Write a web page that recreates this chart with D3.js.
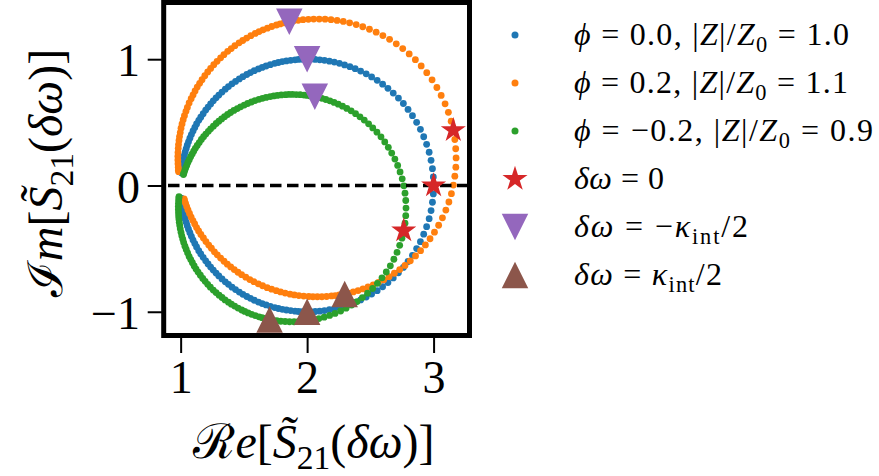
<!DOCTYPE html>
<html><head><meta charset="utf-8">
<script src="https://cdn.jsdelivr.net/npm/d3@7"></script>
<style>
body{margin:0;background:#fff}
svg{display:block}
text{font-family:"Liberation Serif","DejaVu Serif",serif;fill:#000;white-space:pre}
</style>
</head><body>
<svg id="c" width="879" height="476"></svg>
<script>
// ---------------- data ----------------
const seriesColors = ["#1f77b4", "#ff7f0e", "#2ca02c"];
const phiLabels = ["0.0", "0.2", "\u22120.2"];
const zLabels = ["1.0", "1.1", "0.9"];
const xTicks = [1, 2, 3];
const yTicks = [-1, 0, 1];

const bluePts = [
[2.998,.067],[2.991,.133],[2.980,.199],[2.965,.263],[2.945,.326],[2.922,.386],[2.896,.445],[2.866,.500],[2.833,.553],[2.798,.602],[2.761,.649],[2.722,.692],[2.681,.732],[2.639,.769],[2.597,.802],[2.554,.833],[2.510,.860],[2.467,.884],[2.423,.906],[2.380,.925],[2.338,.941],[2.296,.955],[2.255,.967],[2.215,.977],[2.176,.984],[2.137,.991],[2.100,.995],[2.064,.998],[2.029,1.000],[1.995,1.000],
[1.961,.999],[1.932,.998],[1.905,.995],[1.870,.991],[1.836,.986],[1.804,.981],[1.773,.974],[1.744,.967],[1.709,.957],[1.676,.946],[1.645,.935],[1.615,.923],[1.582,.909],[1.552,.894],[1.523,.879],[1.492,.862],[1.464,.844],[1.434,.824],[1.406,.805],[1.378,.783],[1.353,.763],[1.327,.740],[1.302,.716],[1.280,.694],[1.258,.670],[1.237,.646],[1.217,.621],[1.198,.597],[1.178,.569],[1.159,.541],[1.143,.516],[1.126,.487],[1.112,.460],[1.098,.432],[1.085,.403],[1.073,.374],[1.062,.346],[1.052,.319],[1.044,.292],[1.036,.265],[1.029,.238],[1.022,.210],[1.017,.184],[1.013,.158],[1.009,.133],[1.006,.111],[1.005,.100],
[3.000,0.000],
[2.998,-.067],[2.991,-.133],[2.980,-.199],[2.965,-.263],[2.945,-.326],[2.922,-.386],[2.896,-.445],[2.866,-.500],[2.833,-.553],[2.798,-.602],[2.761,-.649],[2.722,-.692],[2.681,-.732],[2.639,-.769],[2.597,-.802],[2.554,-.833],[2.510,-.860],[2.467,-.884],[2.423,-.906],[2.380,-.925],[2.338,-.941],[2.296,-.955],[2.255,-.967],[2.215,-.977],[2.176,-.984],[2.137,-.991],[2.100,-.995],[2.064,-.998],[2.029,-1.000],[1.995,-1.000],
[1.961,-.999],[1.932,-.998],[1.905,-.995],[1.870,-.991],[1.836,-.986],[1.804,-.981],[1.773,-.974],[1.744,-.967],[1.709,-.957],[1.676,-.946],[1.645,-.935],[1.615,-.923],[1.582,-.909],[1.552,-.894],[1.523,-.879],[1.492,-.862],[1.464,-.844],[1.434,-.824],[1.406,-.805],[1.378,-.783],[1.353,-.763],[1.327,-.740],[1.302,-.716],[1.280,-.694],[1.258,-.670],[1.237,-.646],[1.217,-.621],[1.198,-.597],[1.178,-.569],[1.159,-.541],[1.143,-.516],[1.126,-.487],[1.112,-.460],[1.098,-.432],[1.085,-.403],[1.073,-.374],[1.062,-.346],[1.052,-.319],[1.044,-.292],[1.036,-.265],[1.029,-.238],[1.022,-.210],[1.017,-.184],[1.013,-.158],[1.009,-.133],[1.006,-.111],[1.005,-.100]
];

const orangePts = [
[3.139,.509],[3.117,.579],[3.091,.647],[3.060,.713],[3.026,.776],[2.988,.837],[2.946,.893],[2.902,.947],[2.856,.996],[2.807,1.042],[2.756,1.084],[2.705,1.122],[2.652,1.157],[2.599,1.187],[2.546,1.214],[2.493,1.237],[2.440,1.257],[2.388,1.274],[2.336,1.288],[2.286,1.299],[2.237,1.307],[2.189,1.313],[2.142,1.317],[2.096,1.318],[2.052,1.318],[2.010,1.316],[1.968,1.313],[1.929,1.308],[1.891,1.302],[1.854,1.295],
[1.817,1.287],[1.787,1.279],[1.758,1.271],[1.721,1.259],[1.686,1.246],[1.652,1.233],[1.620,1.219],[1.590,1.204],[1.555,1.186],[1.522,1.167],[1.491,1.148],[1.462,1.130],[1.429,1.107],[1.400,1.084],[1.372,1.062],[1.342,1.036],[1.316,1.011],[1.288,.983],[1.262,.956],[1.237,.927],[1.214,.899],[1.191,.869],[1.169,.838],[1.150,.809],[1.131,.779],[1.114,.748],[1.098,.717],[1.083,.687],[1.067,.653],[1.053,.618],[1.042,.587],[1.030,.552],[1.020,.521],[1.011,.487],[1.003,.453],[.997,.419],[.991,.387],[.987,.356],[.983,.324],[.981,.294],[.979,.262],[.978,.232],[.978,.202],[.979,.173],[.981,.145],[.982,.121],[.984,.109],
[3.156,.437],
[3.168,.364],[3.175,.291],[3.178,.218],[3.176,.145],[3.168,.074],[3.157,.003],[3.141,-.065],[3.121,-.131],[3.097,-.195],[3.070,-.256],[3.040,-.315],[3.007,-.370],[2.972,-.422],[2.935,-.471],[2.897,-.516],[2.857,-.558],[2.816,-.597],[2.774,-.633],[2.732,-.666],[2.690,-.695],[2.648,-.722],[2.606,-.747],[2.564,-.768],[2.523,-.787],[2.482,-.804],[2.442,-.819],[2.403,-.832],[2.365,-.843],[2.328,-.853],[2.291,-.861],
[2.254,-.867],[2.223,-.872],[2.193,-.875],[2.154,-.879],[2.117,-.881],[2.081,-.881],[2.046,-.881],[2.013,-.879],[1.973,-.876],[1.935,-.872],[1.899,-.867],[1.865,-.861],[1.826,-.852],[1.790,-.843],[1.756,-.833],[1.719,-.821],[1.684,-.809],[1.648,-.794],[1.614,-.779],[1.579,-.762],[1.547,-.745],[1.515,-.726],[1.482,-.706],[1.453,-.687],[1.424,-.666],[1.396,-.645],[1.369,-.623],[1.343,-.600],[1.316,-.575],[1.290,-.549],[1.267,-.525],[1.243,-.497],[1.222,-.472],[1.200,-.444],[1.180,-.416],[1.160,-.388],[1.142,-.360],[1.126,-.333],[1.111,-.305],[1.097,-.278],[1.083,-.250],[1.070,-.222],[1.058,-.194],[1.048,-.167],[1.039,-.141],[1.031,-.118],[1.027,-.107]
];

const greenPts = [
[2.774,-.299],[2.780,-.239],[2.782,-.179],[2.780,-.119],[2.774,-.061],[2.765,-.003],[2.752,.053],[2.735,.107],[2.716,.159],[2.694,.209],[2.669,.257],[2.642,.302],[2.614,.345],[2.584,.385],[2.552,.422],[2.519,.456],[2.486,.488],[2.452,.518],[2.418,.544],[2.383,.569],[2.348,.591],[2.314,.610],[2.280,.628],[2.246,.644],[2.213,.658],[2.180,.670],[2.148,.681],[2.117,.690],[2.086,.697],[2.057,.704],
[2.026,.709],[2.001,.713],[1.976,.716],[1.945,.719],[1.914,.720],[1.884,.721],[1.856,.721],[1.829,.719],[1.796,.717],[1.765,.713],[1.736,.709],[1.708,.704],[1.676,.697],[1.647,.690],[1.619,.682],[1.588,.672],[1.560,.661],[1.530,.649],[1.503,.637],[1.474,.623],[1.448,.609],[1.421,.594],[1.395,.578],[1.371,.562],[1.347,.545],[1.324,.527],[1.302,.509],[1.281,.491],[1.259,.470],[1.237,.449],[1.219,.429],[1.199,.407],[1.181,.386],[1.164,.364],[1.147,.340],[1.131,.317],[1.116,.294],[1.103,.272],[1.091,.250],[1.079,.228],[1.068,.204],[1.057,.182],[1.048,.159],[1.039,.137],[1.032,.116],[1.025,.097],[1.022,.087],
[2.764,-.358],
[2.750,-.417],[2.732,-.474],[2.711,-.530],[2.686,-.584],[2.658,-.636],[2.626,-.685],[2.592,-.731],[2.556,-.775],[2.518,-.816],[2.478,-.853],[2.437,-.888],[2.395,-.919],[2.352,-.947],[2.308,-.972],[2.265,-.994],[2.221,-1.013],[2.178,-1.029],[2.135,-1.043],[2.093,-1.054],[2.052,-1.063],[2.012,-1.070],[1.972,-1.074],[1.934,-1.077],[1.897,-1.079],[1.861,-1.079],[1.826,-1.077],[1.792,-1.075],[1.760,-1.071],[1.729,-1.066],[1.699,-1.060],
[1.669,-1.053],[1.644,-1.047],[1.620,-1.040],[1.590,-1.030],[1.561,-1.020],[1.533,-1.009],[1.507,-.997],[1.483,-.986],[1.454,-.971],[1.427,-.955],[1.401,-.940],[1.378,-.924],[1.351,-.906],[1.327,-.887],[1.304,-.869],[1.280,-.848],[1.258,-.828],[1.235,-.805],[1.214,-.783],[1.194,-.759],[1.175,-.736],[1.156,-.711],[1.138,-.686],[1.122,-.662],[1.107,-.637],[1.093,-.612],[1.080,-.587],[1.067,-.562],[1.055,-.534],[1.044,-.506],[1.034,-.481],[1.024,-.452],[1.017,-.426],[1.009,-.399],[1.003,-.371],[.997,-.343],[.993,-.316],[.989,-.291],[.986,-.265],[.984,-.241],[.983,-.215],[.982,-.190],[.982,-.165],[.983,-.141],[.984,-.119],[.986,-.099],[.987,-.089]
];

// special detunings
const zeroPts      = [[3.000, 0.000], [3.156, 0.437], [2.764, -0.358]];   // δω = 0
const minusHalfPts = [[2.000, 1.000], [1.859, 1.297], [2.061, 0.703]];    // δω = -κ/2
const plusHalfPts  = [[2.000, -1.000], [2.297, -0.859], [1.703, -1.061]]; // δω = +κ/2
const markerColors = {star: "#d62728", down: "#9467bd", up: "#8c564b"};

// legend labels (segments: text, italic, subscript)
const legendLabels = [
  [["ϕ",1],[" = "+phiLabels[0]+", |"],["Z",1],["|/"],["Z",1],["0",0,1],[" = "+zLabels[0]]],
  [["ϕ",1],[" = "+phiLabels[1]+", |"],["Z",1],["|/"],["Z",1],["0",0,1],[" = "+zLabels[1]]],
  [["ϕ",1],[" = "+phiLabels[2]+", |"],["Z",1],["|/"],["Z",1],["0",0,1],[" = "+zLabels[2]]],
  [["δω",1],[" = 0"]],
  [["δω",1],[" = \u2212"],["κ",1],["int",0,1],["/2"]],
  [["δω",1],[" = "],["κ",1],["int",0,1],["/2"]]
];
const legendWidths = [275, 274, 299, 90, 174, 148];
const xLabelSegs = [["ℛ"],["e",1],["["],["S\u0303",1],["21",0,1],["("],["δω",1],[")]"]];
const yLabelSegs = [["ℐ"],["m",1],["["],["S\u0303",1],["21",0,1],["("],["δω",1],[")]"]];

// ---------------- drawing ----------------
const svg = d3.select("#c");
const L = 163.7, R = 469.5, T = 2.5, B = 335.5;
const x = d3.scaleLinear().domain([0.866, 3.284]).range([L, R]);
const y = d3.scaleLinear().domain([-1.188, 1.449]).range([B, T]);

svg.append("defs").append("clipPath").attr("id","clip")
  .append("rect").attr("x",L).attr("y",T).attr("width",R-L).attr("height",B-T);
const plot = svg.append("g").attr("clip-path","url(#clip)");

[bluePts, orangePts, greenPts].forEach((pts, i) => {
  plot.append("g").selectAll("circle").data(pts).join("circle")
    .attr("cx", d => x(d[0])).attr("cy", d => y(d[1])).attr("r", 3.4)
    .attr("fill", seriesColors[i]);
});

// dashed zero line
plot.append("line").attr("x1", L).attr("x2", R).attr("y1", y(0)).attr("y2", y(0))
  .attr("stroke", "#000").attr("stroke-width", 3.4)
  .attr("stroke-dasharray", "11.5,5.5").attr("stroke-dashoffset", 12.7);

function starPath(Ro) {
  const Ri = Ro * 0.381966, p = [];
  for (let k = 0; k < 10; k++) {
    const a = -Math.PI / 2 + k * Math.PI / 5, r = k % 2 ? Ri : Ro;
    p.push([r * Math.cos(a), r * Math.sin(a)]);
  }
  return "M" + p.map(q => q[0].toFixed(2) + "," + q[1].toFixed(2)).join("L") + "Z";
}
function triPath(s, down) {
  const h = s / 2, sg = down ? 1 : -1;
  return `M0,${sg*h}L${-h},${-sg*h}L${h},${-sg*h}Z`;
}
const STAR = starPath(13.2), DOWN = triPath(26.5, true), UP = triPath(26.5, false);

plot.append("g").selectAll("path").data(zeroPts).join("path")
  .attr("d", STAR).attr("fill", markerColors.star)
  .attr("transform", d => `translate(${x(d[0])},${y(d[1])})`);
plot.append("g").selectAll("path").data(minusHalfPts).join("path")
  .attr("d", DOWN).attr("fill", markerColors.down)
  .attr("transform", d => `translate(${x(d[0])},${y(d[1])})`);
plot.append("g").selectAll("path").data(plusHalfPts).join("path")
  .attr("d", UP).attr("fill", markerColors.up)
  .attr("transform", d => `translate(${x(d[0])},${y(d[1])})`);

// axes
const TICK_FS = 46;
const xAxis = svg.append("g").attr("transform", `translate(0,${B})`)
  .call(d3.axisBottom(x).tickValues(xTicks).tickFormat(d3.format("d")).tickSizeInner(17.5).tickSizeOuter(0).tickPadding(7.6));
const yAxis = svg.append("g").attr("transform", `translate(${L},0)`)
  .call(d3.axisLeft(y).tickValues(yTicks).tickFormat(d3.format("d")).tickSizeInner(16).tickSizeOuter(0).tickPadding(7.7));
[xAxis, yAxis].forEach(a => {
  a.select(".domain").remove();
  a.selectAll(".tick line").attr("stroke", "#000").attr("stroke-width", 2);
  a.selectAll(".tick text").attr("font-size", TICK_FS).attr("font-family", null).attr("fill", "#000");
});
yAxis.selectAll(".tick text").attr("dy", "0.36em");

// frame
svg.append("rect").attr("x", L).attr("y", T).attr("width", R - L).attr("height", B - T)
  .attr("fill", "none").attr("stroke", "#000").attr("stroke-width", 5);

function rich(sel, segs, fs) {
  let shifted = false;
  segs.forEach(s => {
    const t = sel.append("tspan").text(s[0]);
    if (s[1]) t.attr("font-style", "italic");
    if (s[2]) { t.attr("font-size", fs * 0.7).attr("dy", fs * 0.22); shifted = true; }
    else if (shifted) { t.attr("dy", -fs * 0.22); shifted = false; }
  });
  return sel;
}

const LAB_FS = 48;
rich(svg.append("text").attr("x", 314).attr("y", 458).attr("text-anchor", "middle")
  .attr("font-size", LAB_FS), xLabelSegs, LAB_FS);
rich(svg.append("text").attr("text-anchor", "middle").attr("font-size", LAB_FS)
  .attr("transform", "translate(62,173) rotate(-90)"), yLabelSegs, LAB_FS);

// legend
const LEG_FS = 32;
const legY = d3.range(6).map(i => 35 + i * 48);
const legX = 515;
const lg = svg.append("g");
seriesColors.forEach((c, i) => {
  lg.append("circle").attr("cx", legX).attr("cy", legY[i]).attr("r", 3.5).attr("fill", c);
});
lg.append("path").attr("d", STAR).attr("fill", markerColors.star).attr("transform", `translate(${legX},${legY[3]})`);
lg.append("path").attr("d", DOWN).attr("fill", markerColors.down).attr("transform", `translate(${legX},${legY[4]})`);
lg.append("path").attr("d", UP).attr("fill", markerColors.up).attr("transform", `translate(${legX},${legY[5]})`);
legendLabels.forEach((segs, i) => {
  rich(lg.append("text").attr("x", 574).attr("y", legY[i] + 10).attr("font-size", LEG_FS)
    .attr("textLength", legendWidths[i]).attr("lengthAdjust", "spacing"), segs, LEG_FS);
});
</script>
</body></html>
